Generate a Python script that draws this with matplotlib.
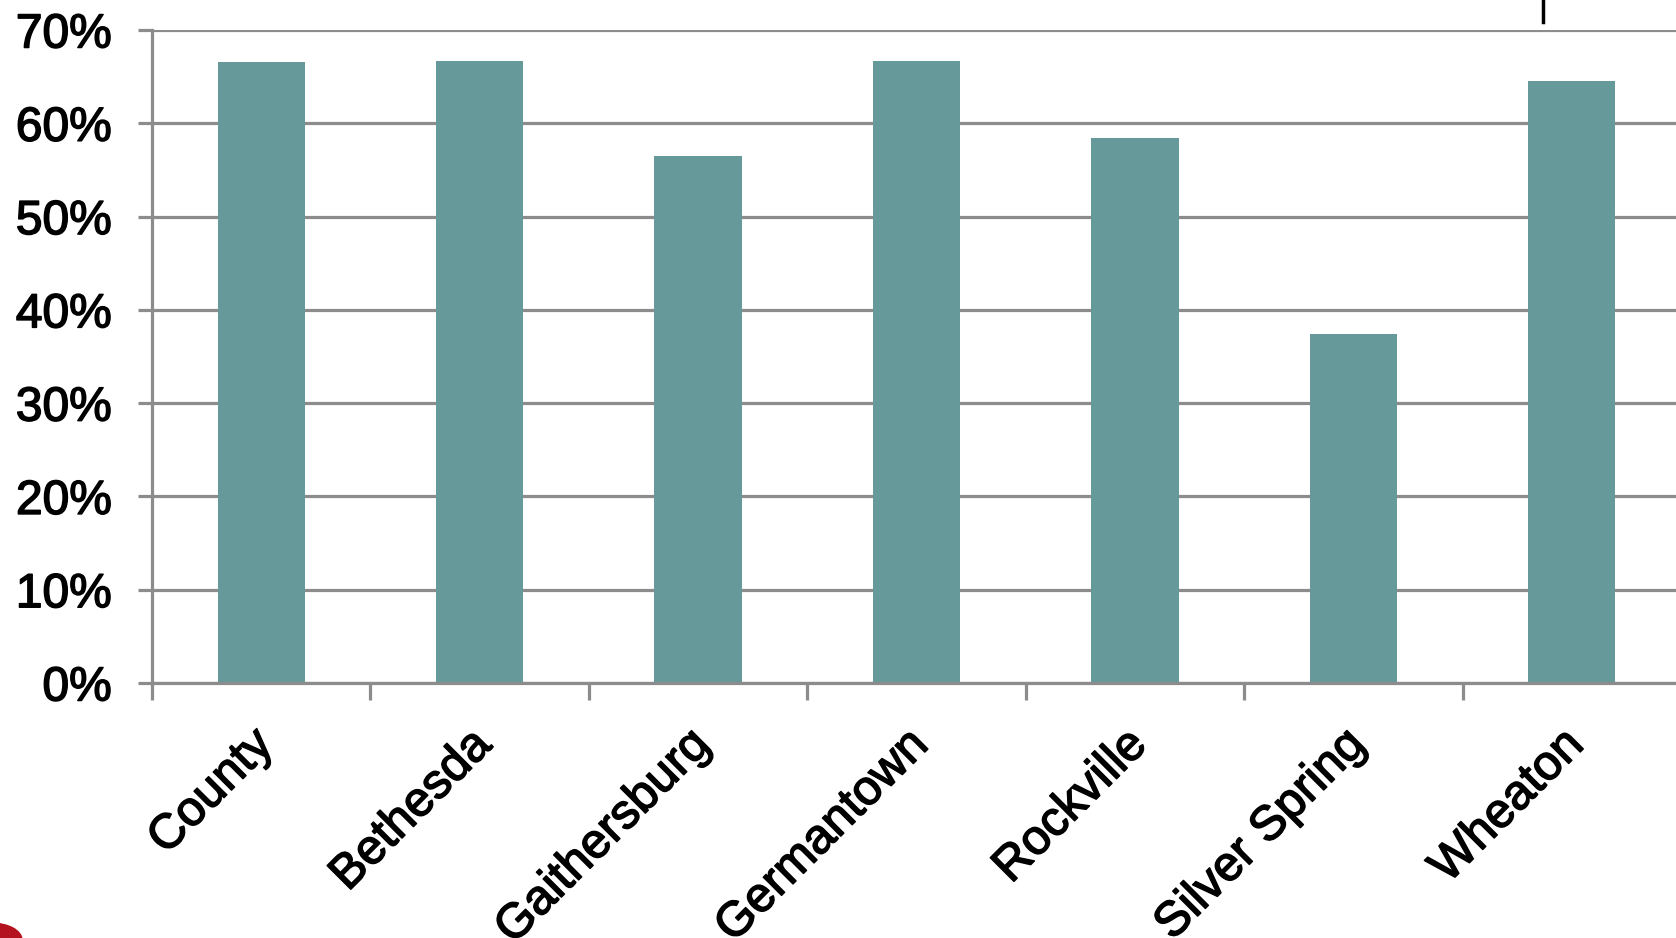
import matplotlib
matplotlib.use("Agg")
import matplotlib.pyplot as plt
import matplotlib.transforms as mtransforms
import matplotlib.patheffects as pe
from matplotlib.patches import Circle
from matplotlib.lines import Line2D
import numpy as np

categories = ["County", "Bethesda", "Gaithersburg", "Germantown", "Rockville", "Silver Spring", "Wheaton"]
values = [66.6, 66.7, 56.5, 66.7, 58.4, 37.4, 64.5]
yticks = [0, 10, 20, 30, 40, 50, 60, 70]
ytick_labels = ["0%", "10%", "20%", "30%", "40%", "50%", "60%", "70%"]

plt.rcParams['font.family'] = ['Liberation Sans', 'DejaVu Sans']

W, H = 1676, 938
fig = plt.figure(figsize=(W / 100, H / 100), dpi=100)
fig.patch.set_facecolor("white")
left, right, bottom, top = 152 / W, 1681 / W, 1 - 683 / H, 1 - 30 / H
ax = fig.add_axes([left, bottom, right - left, top - bottom])

grid_c = "#8c8c8c"
bar_c = "#669999"
stroke = [pe.withStroke(linewidth=1.1, foreground="black")]

x = np.arange(len(categories)) + 0.5
ax.bar(x, values, width=0.40, color=bar_c, zorder=3)

ax.set_xlim(0, len(categories))
ax.set_ylim(0, 70)
ax.set_yticks(yticks)
ax.set_yticklabels(ytick_labels, fontsize=34.5)
ax.yaxis.grid(True, color=grid_c, linewidth=2.3, zorder=1)
ax.set_axisbelow(True)

for s in ["top", "right"]:
    ax.spines[s].set_visible(False)
for s in ["left", "bottom"]:
    ax.spines[s].set_color(grid_c)
    ax.spines[s].set_linewidth(2.3)
    ax.spines[s].set_zorder(4)

ax.tick_params(axis="y", length=10, width=2.3, color=grid_c, pad=19)
for lbl in ax.get_yticklabels():
    lbl.set_path_effects(stroke)

# major ticks at boundaries (no labels), minor at centers with labels
ax.set_xticks(np.arange(len(categories) + 1))
ax.set_xticklabels([])
ax.tick_params(axis="x", which="major", length=12, width=2.3, color=grid_c, direction="out")
ax.set_xticks(x, minor=True)
ax.set_xticklabels(categories, minor=True, fontsize=35, rotation=45,
                   ha="right", va="top", rotation_mode="anchor")
ax.tick_params(axis="x", which="minor", length=0, pad=28)
offset = mtransforms.ScaledTranslation(-11 / 100, 0, fig.dpi_scale_trans)
for lbl in ax.get_xticklabels(minor=True):
    lbl.set_transform(lbl.get_transform() + offset)
    lbl.set_path_effects(stroke)

# decorative elements from the source slide
fig.add_artist(Line2D([1543 / W, 1543 / W], [1.0, 1 - 22 / H], color="black", linewidth=2.5))
fig.add_artist(Circle((-8 / W, -2 / H), 30 / W, transform=fig.transFigure, color="#b3121e"))

fig.savefig("out.png", dpi=100)
